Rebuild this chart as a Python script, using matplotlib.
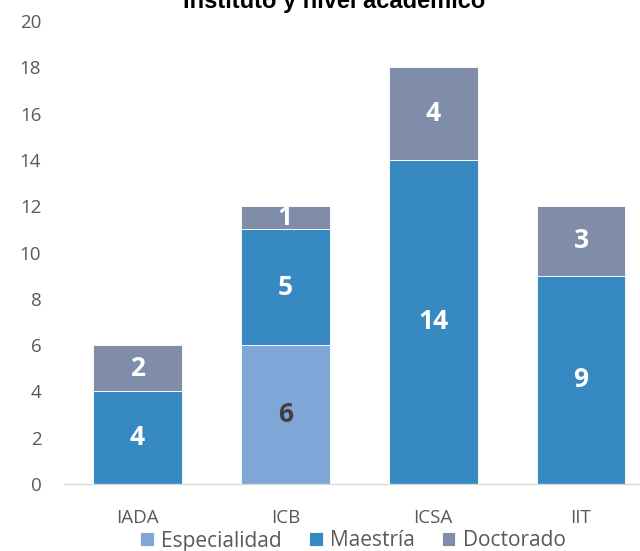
import matplotlib
matplotlib.use("Agg")
import matplotlib.pyplot as plt
import numpy as np

categories = ["IADA", "ICB", "ICSA", "IIT"]
especialidad = [0, 6, 0, 0]
maestria = [4, 5, 14, 9]
doctorado = [2, 1, 4, 3]
series_names = ["Especialidad", "Maestría", "Doctorado"]
colors = ["#7FA6D6", "#3789C1", "#7F8DA9"]
label_colors = ["#404040", "white", "white"]
title = "Instituto y nivel académico"
yticks = list(range(0, 21, 2))

plt.rcParams['font.family'] = ['Open Sans', 'DejaVu Sans']

fig = plt.figure(figsize=(6.4, 5.51), dpi=100)
ax = fig.add_axes([63.5/640, 67/551, (655-63.5)/640, 463/551])

x = np.arange(len(categories))
bottom = np.zeros(len(categories))
for vals, name, c, lc in zip([especialidad, maestria, doctorado], series_names, colors, label_colors):
    vals = np.array(vals, dtype=float)
    ax.bar(x, vals, width=0.6, bottom=bottom, color=c, label=name,
           edgecolor="white", linewidth=0.6)
    for xi, v, b in zip(x, vals, bottom):
        if v > 0:
            ax.text(xi, b + v/2, f"{int(v)}", ha="center", va="center",
                    color=lc, fontsize=19, fontweight="bold")
    bottom += vals

ax.set_xlim(-0.5, 3.5)
ax.set_ylim(0, 20)
ax.set_yticks(yticks)
ax.set_xticks(x)
ax.set_xticklabels(categories)
ax.tick_params(axis="both", length=0, colors="#595959", labelsize=13.5)
ax.tick_params(axis="y", pad=16)
ax.tick_params(axis="x", pad=18)
for s in ["top", "right", "left"]:
    ax.spines[s].set_visible(False)
ax.spines["bottom"].set_color("#D9D9D9")
ax.spines["bottom"].set_linewidth(1)

fig.text(334/640, 1 - 8/551, title, ha="center", va="baseline",
         fontsize=17, fontweight="bold", family=["Liberation Sans", "DejaVu Sans"], color="black")

fig.legend(loc="center", bbox_to_anchor=(353/640, 1 - 541/551), ncol=3,
           frameon=False, fontsize=15, handlelength=0.65, handleheight=0.65,
           columnspacing=1.3, handletextpad=0.35, labelcolor="#595959",
           borderpad=0, borderaxespad=0)

fig.savefig("out.png", dpi=100)
